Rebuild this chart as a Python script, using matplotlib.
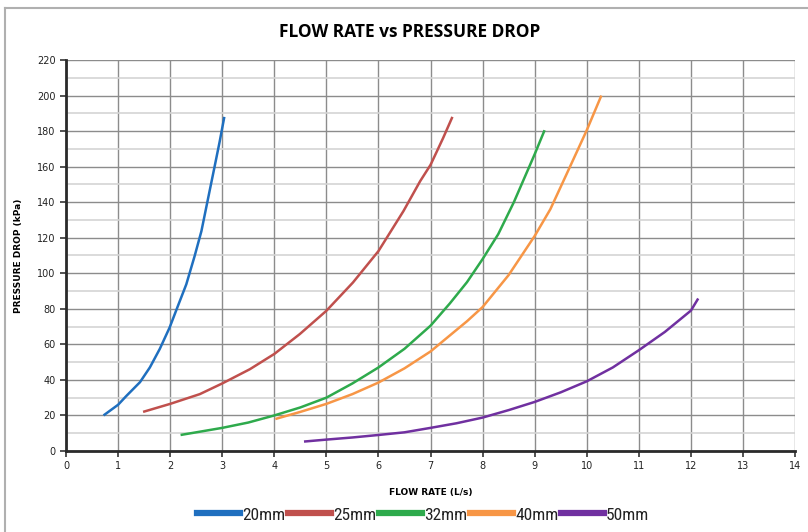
import numpy as np
import matplotlib
matplotlib.use('Agg')
from matplotlib import pyplot as plt
from matplotlib import font_manager
from matplotlib.lines import Line2D

# Flow rate (L/s) vs pressure drop (kPa)
x_20 = [0.72, 1.0, 1.16, 1.42, 1.61, 1.80, 1.99, 2.15, 2.31, 2.47, 2.60, 2.73, 2.86, 2.95, 3.04]
y_20 = [20, 26, 31, 38.7, 47, 57.4, 69.5, 81.7, 93.8, 109.7, 123.7, 142.4, 161, 174, 188]

x_25 = [1.48, 2.0, 2.57, 3.0, 3.53, 4.0, 4.49, 5.0, 5.51, 6.0, 6.48, 6.80, 7.0, 7.24, 7.42]
y_25 = [22, 26.5, 32, 38, 46, 54.6, 65.8, 78.9, 94.8, 112.5, 135, 151.8, 161, 176, 188]

x_32 = [2.2, 2.5, 3.0, 3.5, 4.0, 4.5, 5.0, 5.5, 6.0, 6.5, 7.0, 7.37, 7.7, 8.0, 8.3, 8.6, 9.0, 9.19]
y_32 = [9, 10.5, 13, 16, 20, 24.5, 30, 38, 47, 57.5, 70.5, 83, 95, 108, 122, 140, 167, 180.5]

x_40 = [4.02, 4.5, 5.0, 5.5, 6.0, 6.5, 7.0, 7.37, 7.7, 8.0, 8.5, 9.0, 9.3, 9.6, 10.0, 10.28]
y_40 = [18, 22, 26.5, 32, 38.5, 46.5, 56, 65, 73, 81, 99, 121, 136, 155, 180.5, 200]

x_50 = [4.57, 5.0, 5.5, 6.0, 6.5, 7.0, 7.5, 8.0, 8.5, 9.0, 9.5, 10.0, 10.5, 11.0, 11.5, 12.0, 12.14]
y_50 = [5.3, 6.4, 7.6, 9, 10.5, 13, 15.6, 18.8, 23, 27.6, 33, 39.2, 47, 56.7, 67, 79, 85.8]

labels = ['20mm', '25mm', '32mm', '40mm', '50mm']
colors = ['#1f6fbf', '#c0504d', '#2eaa4c', '#f79646', '#7030a0']

# pick a narrow font for the legend if one is installed
names = {f.name for f in font_manager.fontManager.ttflist}
leg_prop = {'family': 'DejaVu Sans', 'stretch': 'condensed', 'size': 11}
for cand in ['Liberation Sans Narrow', 'Roboto Condensed', 'Open Sans Condensed']:
    if cand in names:
        leg_prop = {'family': cand, 'size': 12.5}
        break

fig = plt.figure(figsize=(8.08, 5.32), dpi=100)
ax = fig.add_axes([0.0817, 0.1523, 0.9023, 0.7349])

series = [(x_20, y_20), (x_25, y_25), (x_32, y_32), (x_40, y_40), (x_50, y_50)]
for (xs, ys), c in zip(series, colors):
    ax.plot(xs, ys, color=c, lw=1.8, solid_capstyle='butt', solid_joinstyle='round', zorder=3)

ax.set_xlim(0, 14)
ax.set_ylim(0, 220)
ax.set_xticks(np.arange(0, 15, 1))
ax.set_yticks(np.arange(0, 221, 20))
ax.set_yticks(np.arange(10, 220, 20), minor=True)
ax.grid(which='major', color='#8c8c8c', lw=1.0)
ax.grid(which='minor', axis='y', color='#d4d4d4', lw=1.2)
ax.tick_params(which='minor', length=0)
ax.tick_params(which='major', direction='out', length=4, width=1.2, color='#333333',
               labelsize=7, labelcolor='#222222')
ax.set_axisbelow(True)

for s in ['top', 'right']:
    ax.spines[s].set_visible(False)
for s in ['left', 'bottom']:
    ax.spines[s].set_color('#2a2a2a')
    ax.spines[s].set_linewidth(2)

ax.set_xlabel('FLOW RATE (L/s)', fontsize=6.5, fontweight='bold', labelpad=12)
ax.set_ylabel('PRESSURE DROP (kPa)', fontsize=6.5, fontweight='bold', labelpad=10)

fig.text(0.507, 0.94, 'FLOW RATE vs PRESSURE DROP', ha='center', va='center',
         fontsize=12.5, fontweight='bold', family=['Open Sans', 'DejaVu Sans'])

# outer chart frame (top and left edges visible)
fig.add_artist(Line2D([0.006, 0.006], [0, 0.985], color='#b0b0b0', lw=1.5,
                      transform=fig.transFigure))
fig.add_artist(Line2D([0.006, 1.0], [0.985, 0.985], color='#b0b0b0', lw=1.5,
                      transform=fig.transFigure))

handles = [Line2D([], [], color=c, lw=4.5) for c in colors]
leg = fig.legend(handles, labels, loc='center', bbox_to_anchor=(0.524, 0.032), ncol=5,
                 frameon=False, handlelength=2.45, handletextpad=0.15, columnspacing=0.15,
                 prop=leg_prop)
for t in leg.get_texts():
    t.set_color('#222222')

fig.savefig('out.png', dpi=100)
